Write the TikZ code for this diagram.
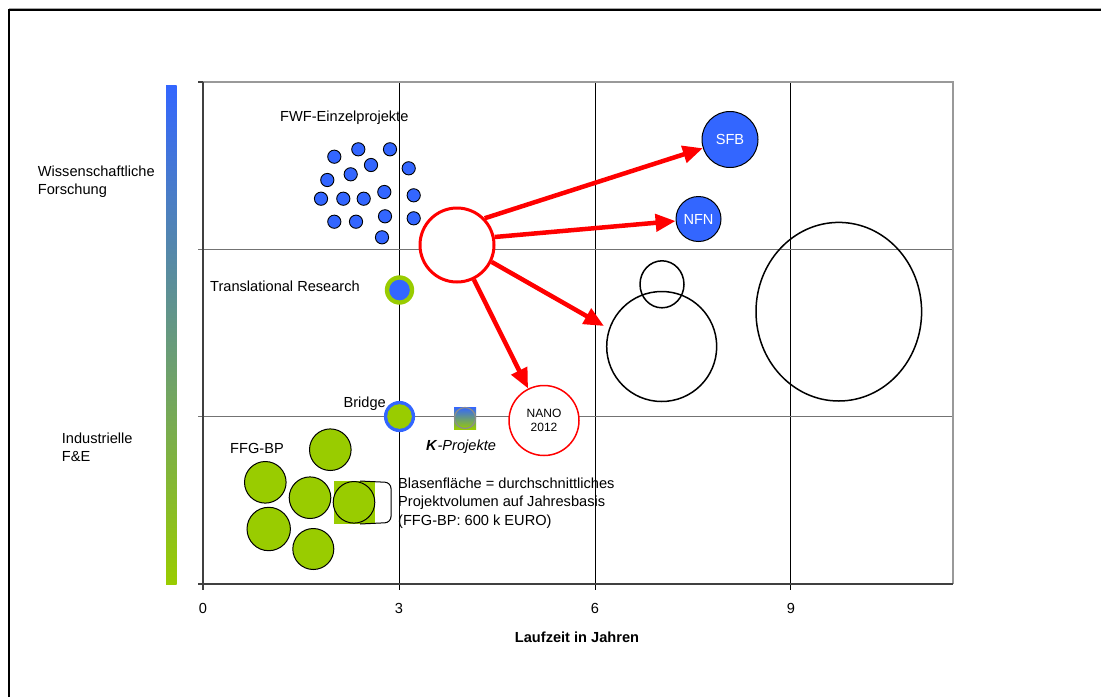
\documentclass[tikz,border=0pt]{standalone}
\usepackage{fontspec}
\setmainfont{Liberation Sans}
\usetikzlibrary{arrows.meta}
\definecolor{bblue}{HTML}{3366FF}
\definecolor{bgreen}{HTML}{99CC00}
\definecolor{bred}{HTML}{FF0000}
\tikzset{
  lbl/.style={inner sep=0pt, font=\fontsize{14.6}{18.7}\selectfont},
  small/.style={inner sep=0pt, font=\fontsize{12}{14.3}\selectfont},
  fwfc/.style={draw=black, fill=bblue, line width=0.9pt},
  ffgc/.style={draw=black, fill=bgreen, line width=1pt},
  grid v/.style={black, line width=0.9pt},
  grid h/.style={black!55, line width=1.2pt},
  axisline/.style={black!75, line width=1.5pt},
  bubble/.style={circle, inner sep=0pt},
  redarrow/.style={draw=bred, line width=4.5pt, -{Triangle[length=20pt,width=17pt]}},
}
\begin{document}
\begin{tikzpicture}[x=1pt,y=-1pt]
\useasboundingbox (0,0) rectangle (1101,697);
% outer frame
\draw[black!35, line width=1pt] (9,8) -- (1101,8);
\draw[black, line width=2pt] (9,697) -- (9,10) -- (1101,10);
% colour bar
\shade[top color=bblue, bottom color=bgreen] (166,85) rectangle (176.5,584);
% grid
\foreach \gx in {399,595,790.5} \draw[grid v] (\gx,82) -- (\gx,590);
\foreach \gy in {249.3,416.5} \draw[grid h] (198,\gy) -- (953,\gy);
\draw[black!40, line width=1.5pt] (198,82) -- (953,82) -- (953,584);
\draw[axisline] (203,82) -- (203,590);
\draw[axisline] (198,584) -- (953,584);
\draw[axisline] (198,82) -- (203,82);
% axis labels
\node[lbl] (wf) at (37.7,181.8) [anchor=west, align=left] {Wissenschaftliche\\Forschung};
\node[lbl] (ife) at (61.7,447.2) [anchor=west, align=left] {Industrielle\\F\&E};
\node[lbl, anchor=base] (t0) at (203,613) {0};
\node[lbl, anchor=base] (t3) at (399,613) {3};
\node[lbl, anchor=base] (t6) at (595,613) {6};
\node[lbl, anchor=base] (t9) at (791,613) {9};
\node[lbl, anchor=base, font=\fontsize{14.6}{18}\selectfont\bfseries] (xl) at (577,642) {Laufzeit in Jahren};
% FWF bubbles
\foreach \cx/\cy in {334.3/156.7, 358.3/149.3, 390/149.3, 371/165, 350.7/174.3, 327.3/180,
  408.7/168.3, 321/198.7, 343.3/198.7, 363.7/198.7, 384.3/192, 413.7/195.3,
  334.3/221.7, 356/221.7, 385/216.3, 413.7/218.3, 382/237.3}
  \draw[fwfc] (\cx,\cy) circle (6.6);
\node[lbl, anchor=base west] (fwf) at (280,121) {FWF-Einzelprojekte};
% Translational research
\fill[bgreen] (399.5,290) circle (14.7);
\fill[bblue] (399.5,290) circle (10.3);
\node[lbl, anchor=base west] (tr) at (210,291) {Translational Research};
% Bridge
\fill[bblue] (399.5,416.5) circle (15.6);
\fill[bgreen] (399.5,416.5) circle (12.3);
\node[lbl, anchor=base east] (br) at (386,407) {Bridge};
% K-Projekte
\shade[top color=bblue, bottom color=bgreen] (454,407) rectangle (476,429);
\draw[black!45, line width=1.2pt] (465,418) circle (10.5);
\node[lbl, anchor=base west] (kp) at (426,450) {\textbf{\textit{K}}\textit{-Projekte}};
% FFG-BP
\fill[bgreen] (334,481) rectangle (375,524);
\foreach \cx/\cy/\r in {330.3/449.7/20.8, 265.3/482.3/20.8, 310/497.7/20.8, 354/502.3/20.8, 268.7/529/21.7, 313.3/549/20.5}
  \draw[ffgc] (\cx,\cy) circle (\r);
\node[lbl, anchor=base west] (ffg) at (230,453) {FFG-BP};
\draw[black, line width=1pt, rounded corners=6pt] (360,481) -- (391,482.5) -- (391,522.5) -- (360,524);
\node[lbl, anchor=west, align=left] (bl) at (398,503) {Blasenfl\"ache = durchschnittliches\\Projektvolumen auf Jahresbasis\\(FFG-BP: 600 k EURO)};
% big black bubbles
\draw[black, line width=1.5pt] (838.8,311.7) ellipse (82.8 and 89.3);
\draw[black, line width=1.5pt] (661.7,346.5) ellipse (55 and 55);
\draw[black, line width=1.5pt] (662,284.3) ellipse (22 and 23.5);
\coordinate (bigtip) at (604,326);
% SFB, NFN, NANO
\node[bubble, draw=black, fill=bblue, line width=1pt, minimum size=56pt, text=white, lbl] (sfb) at (730,139.5) {SFB};
\node[bubble, draw=black, fill=bblue, line width=1pt, minimum size=45pt, text=white, lbl] (nfn) at (698.5,219) {NFN};
\node[bubble, draw=bred, fill=white, line width=1.5pt, minimum size=70pt, small, align=center] (nano) at (544,420.5) {NANO\\2012};
% main red bubble
\node[bubble, draw=bred, fill=white, line width=3pt, minimum size=74pt] (red) at (457,245) {};
% arrows
\draw[redarrow] (red.44) -- (sfb);
\draw[redarrow] (red.12) -- (nfn);
\draw[redarrow] (red.-26) -- (bigtip);
\draw[redarrow] (red.-64) -- (nano);
\end{tikzpicture}
\end{document}
